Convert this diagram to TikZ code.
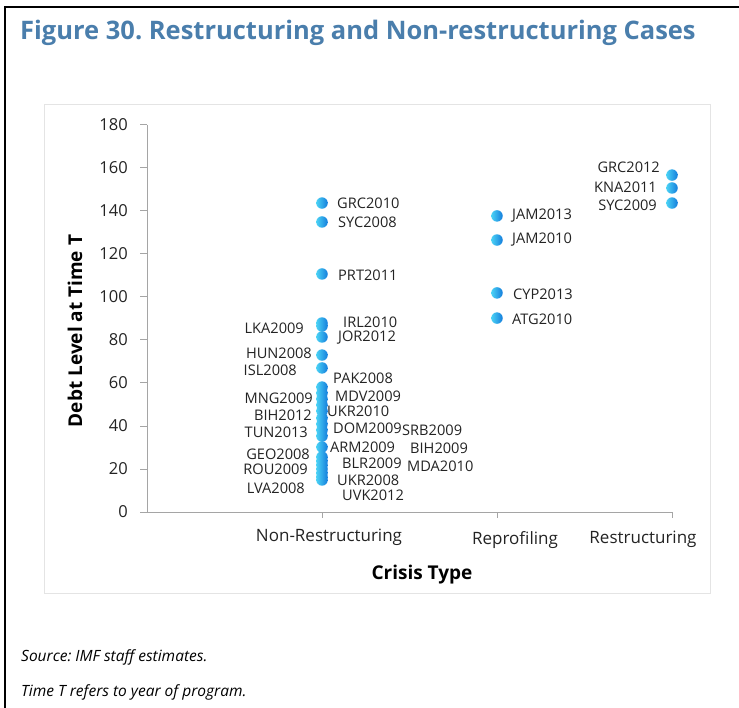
\documentclass[tikz,border=0pt]{standalone}
\usepackage{fontspec}
\setmainfont{Open Sans}
\frenchspacing
\definecolor{titleblue}{RGB}{74,126,172}
\definecolor{axisgray}{RGB}{165,165,165}
\definecolor{boxgray}{RGB}{228,228,228}
\definecolor{dotlight}{RGB}{75,210,245}
\definecolor{dotdark}{RGB}{20,125,220}
\definecolor{textdark}{RGB}{35,35,35}

\begin{document}
\begin{tikzpicture}[x=1pt, y=-1pt,
datadot/.style={circle, inner sep=0pt, minimum size=11.5pt, left color=dotlight, right color=dotdark},
datalabel/.style={inner sep=0pt, text=textdark, font=\fontsize{14.6}{18}\selectfont},
ticklabel/.style={inner sep=0pt, anchor=east, text=textdark, font=\fontsize{16.5}{18}\selectfont},
catlabel/.style={inner sep=0pt, text=textdark, font=\fontsize{17}{20}\selectfont},
axistitle/.style={inner sep=0pt, text=black, font=\bfseries\fontsize{19}{22}\selectfont},
notelabel/.style={inner sep=0pt, anchor=west, text=black, font=\itshape\fontsize{15.5}{18}\selectfont}]

\useasboundingbox (0,0) rectangle (739,708);
\draw[black, line width=2.5pt] (5,708) -- (5,7) -- (739,7);
\draw[boxgray, line width=1pt] (44,105) rectangle (710,593);

\node[inner sep=0pt, anchor=west, text=titleblue, font=\bfseries\fontsize{25.5}{28}\selectfont](title) at (20,33){Figure 30. Restructuring and Non-restructuring Cases};

\begin{scope}[shift={(147,512)}, x=175pt, y=2.15pt]
\draw[axisgray, line width=1pt] (0,180) -- (0,0) -- (3,0);
\foreach \t in {0,20,...,180}{
  \draw[axisgray, line width=1pt] (0,\t) -- ++(-7pt,0);
  \node[ticklabel](tick\t) at ([xshift=-19pt]0,\t){\t};
}
\foreach \c in {1,2,3}
  \draw[axisgray, line width=1pt] (\c,0) -- ++(0,-6pt);

\foreach \cx/\cv/\name in {1/143.7/GRC2010, 1/134.9/SYC2008, 1/110.7/PRT2011,
  1/87.9/IRL2010, 1/86.5/LKA2009, 1/81.4/JOR2012, 1/73.0/HUN2008, 1/67.0/ISL2008,
  1/58.1/PAK2008, 1/55.3/MNG2009, 1/52.6/MDV2009, 1/49.8/UKR2010, 1/47.0/BIH2012,
  1/43.7/DOM2009, 1/40.9/TUN2013, 1/38.1/SRB2009, 1/35.3/BIH2009, 1/30.2/ARM2009,
  1/25.6/GEO2008, 1/23.7/BLR2009, 1/21.9/ROU2009, 1/20.0/MDA2010, 1/18.1/UKR2008,
  1/16.3/LVA2008, 1/14.9/UVK2012,
  2/137.7/JAM2013, 2/126.5/JAM2010, 2/101.9/CYP2013, 2/90.2/ATG2010,
  3/156.7/GRC2012, 3/150.7/KNA2011, 3/143.7/SYC2009}
  \node[datadot](dot\name) at (\cx,\cv){};
\end{scope}

\foreach \name/\lx/\ly in {GRC2010/337/203, SYC2008/338/222, PRT2011/338/275,
  IRL2010/343/322, JOR2012/338/338, PAK2008/333/378, MDV2009/335/396, UKR2010/327/411,
  DOM2009/333/428, SRB2009/402/430, ARM2009/330/447, BIH2009/410/448, BLR2009/342/463,
  MDA2010/407/466, UKR2008/337/480, UVK2012/342/495,
  JAM2013/512/216, JAM2010/512/240, CYP2013/513/294, ATG2010/512/319}
  \node[datalabel, anchor=west](lbl\name) at (\lx,\ly){\name};

\foreach \name/\lx/\ly in {LKA2009/304/328, HUN2008/312/353, ISL2008/297/370,
  MNG2009/313/398, BIH2012/312/415, TUN2013/308/432, GEO2008/310/454, ROU2009/308/469,
  LVA2008/305/488, GRC2012/660/167, KNA2011/657/187, SYC2009/657/205}
  \node[datalabel, anchor=east](lbl\name) at (\lx,\ly){\name};

\node[catlabel](catNonRestructuring) at (329,537){Non-Restructuring};
\node[catlabel](catReprofiling) at (515,540){Reprofiling};
\node[catlabel](catRestructuring) at (643,539){Restructuring};

\node[axistitle](xtitle) at (422,575){Crisis Type};
\node[axistitle, rotate=90](ytitle) at (75,331){Debt Level at Time T};

\node[notelabel](source) at (21,657){Source: IMF staff estimates.};
\node[notelabel](timeNote) at (21,692){Time T refers to year of program.};

%%%%%%%%%%%%%%%%%%%%%%%%%%%%%%%%%%%%%%%%%%%%%%%%%%%%%%%%%%%%%%%%%%%%%%%

\end{tikzpicture}
\end{document}
